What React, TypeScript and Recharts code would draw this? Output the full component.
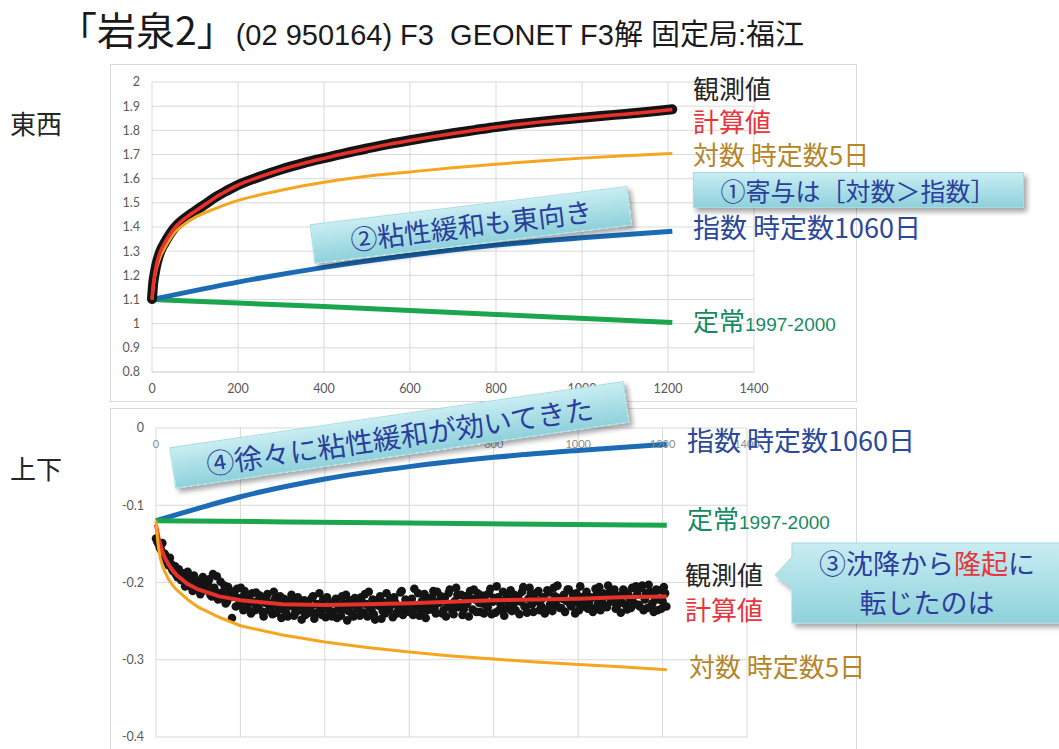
import React from "react";
import { ComposedChart, Line, Scatter, XAxis, YAxis, CartesianGrid } from "recharts";

// 東西 (east-west) panel
const ewDays = [0, 3, 6, 10, 15, 20, 30, 40, 50, 60, 80, 100, 125, 150, 175, 200, 250, 300, 350, 400, 450, 500, 550, 600, 650, 700, 750, 800, 850, 900, 950, 1000, 1050, 1100, 1150, 1200, 1210];
const ewObserved = [1.102, 1.17, 1.205, 1.243, 1.276, 1.302, 1.336, 1.366, 1.391, 1.411, 1.441, 1.466, 1.496, 1.526, 1.551, 1.574, 1.608, 1.638, 1.663, 1.685, 1.706, 1.725, 1.743, 1.759, 1.774, 1.788, 1.801, 1.814, 1.825, 1.835, 1.844, 1.852, 1.86, 1.868, 1.876, 1.885, 1.887];
const ewCalc = [1.1, 1.16, 1.2, 1.24, 1.275, 1.3, 1.335, 1.365, 1.39, 1.41, 1.44, 1.465, 1.495, 1.525, 1.55, 1.573, 1.607, 1.637, 1.662, 1.684, 1.705, 1.724, 1.742, 1.758, 1.773, 1.787, 1.8, 1.813, 1.824, 1.834, 1.843, 1.851, 1.859, 1.867, 1.875, 1.884, 1.886];
const ewLogDays = [0, 3, 6, 10, 15, 20, 30, 40, 50, 60, 80, 100, 150, 200, 250, 300, 400, 500, 600, 700, 800, 900, 1000, 1100, 1210];
const ewLog = [1.1, 1.15, 1.19, 1.225, 1.255, 1.28, 1.315, 1.345, 1.372, 1.39, 1.418, 1.44, 1.478, 1.51, 1.533, 1.552, 1.585, 1.61, 1.628, 1.645, 1.66, 1.673, 1.685, 1.695, 1.704];
const ewExpDays = [0, 200, 400, 600, 800, 1000, 1210];
const ewExp = [1.1, 1.172, 1.233, 1.283, 1.325, 1.356, 1.382];
const ewSteadyDays = [0, 400, 800, 1210];
const ewSteady = [1.1, 1.071, 1.038, 1.005];

// 上下 (up-down) panel
const udExpDays = [0, 100, 200, 400, 600, 800, 1000, 1210];
const udExp = [-0.12, -0.104, -0.089, -0.066, -0.05, -0.038, -0.029, -0.021];
const udSteadyDays = [0, 600, 1210];
const udSteady = [-0.12, -0.123, -0.126];
const udCalcDays = [0, 3, 6, 10, 15, 20, 30, 40, 50, 75, 100, 150, 200, 300, 400, 500, 600, 700, 800, 900, 1000, 1100, 1210];
const udCalc = [-0.125, -0.134, -0.142, -0.151, -0.16, -0.167, -0.177, -0.185, -0.191, -0.202, -0.209, -0.218, -0.223, -0.228, -0.229, -0.228, -0.227, -0.225, -0.223, -0.222, -0.221, -0.219, -0.218];
const udLogDays = [0, 2, 4, 6, 10, 15, 20, 30, 40, 50, 75, 100, 150, 200, 300, 400, 500, 600, 700, 800, 900, 1000, 1100, 1210];
const udLog = [-0.12, -0.133, -0.146, -0.155, -0.168, -0.178, -0.185, -0.196, -0.204, -0.21, -0.222, -0.232, -0.245, -0.256, -0.268, -0.277, -0.284, -0.29, -0.295, -0.299, -0.303, -0.306, -0.309, -0.313];

// observed readings, every 6 days from day 0 (A) and from day 3 (B)
const udObsStep = 6;
const udObservedA = [
  -0.143, -0.15, -0.158, -0.166, -0.171, -0.178, -0.176, -0.186, -0.19, -0.183,
  -0.197, -0.188, -0.201, -0.194, -0.206, -0.191, -0.208, -0.199, -0.212, -0.203,
  -0.21, -0.196, -0.218, -0.207, -0.192, -0.221, -0.213, -0.204, -0.225, -0.211,
  -0.246, -0.216, -0.208, -0.229, -0.219, -0.211, -0.232, -0.222, -0.214, -0.236,
  -0.224, -0.217, -0.238, -0.226, -0.215, -0.233, -0.241, -0.221, -0.23, -0.218,
  -0.235, -0.227, -0.244, -0.222, -0.231, -0.239, -0.219, -0.236, -0.228, -0.242,
  -0.225, -0.233, -0.218, -0.24, -0.229, -0.236, -0.222, -0.245, -0.231, -0.226,
  -0.238, -0.221, -0.234, -0.243, -0.227, -0.216, -0.237, -0.23, -0.244, -0.224,
  -0.232, -0.219, -0.239, -0.228, -0.212, -0.235, -0.241, -0.223, -0.23, -0.247,
  -0.226, -0.214, -0.236, -0.229, -0.219, -0.24, -0.231, -0.211, -0.233, -0.225,
  -0.238, -0.221, -0.208, -0.23, -0.243, -0.224, -0.215, -0.236, -0.227, -0.219,
  -0.233, -0.212, -0.226, -0.24, -0.22, -0.231, -0.209, -0.237, -0.224, -0.216,
  -0.229, -0.242, -0.218, -0.226, -0.211, -0.235, -0.222, -0.214, -0.238, -0.227,
  -0.217, -0.232, -0.208, -0.225, -0.239, -0.219, -0.228, -0.212, -0.234, -0.223,
  -0.21, -0.229, -0.236, -0.218, -0.225, -0.206, -0.232, -0.221, -0.214, -0.238,
  -0.224, -0.211, -0.23, -0.219, -0.235, -0.213, -0.226, -0.207, -0.229, -0.22,
  -0.233, -0.216, -0.224, -0.209, -0.231, -0.222, -0.214, -0.236, -0.219, -0.227,
  -0.212, -0.228, -0.22, -0.234, -0.215, -0.206, -0.225, -0.218, -0.232, -0.213,
  -0.223, -0.209, -0.23, -0.217, -0.226, -0.211, -0.235, -0.22, -0.207, -0.228,
  -0.215, -0.231, -0.204, -0.222, -0.233, -0.212, -0.227, -0.218, -0.236, -0.21,
  -0.224, -0.214,
];
const udObservedB = [
  -0.147, -0.155, -0.149, -0.163, -0.174, -0.168, -0.184, -0.179, -0.193, -0.187,
  -0.191, -0.205, -0.186, -0.199, -0.211, -0.196, -0.203, -0.215, -0.193, -0.208,
  -0.201, -0.216, -0.189, -0.212, -0.222, -0.199, -0.218, -0.227, -0.206, -0.219,
  -0.212, -0.231, -0.221, -0.207, -0.236, -0.224, -0.217, -0.24, -0.226, -0.213,
  -0.233, -0.222, -0.244, -0.219, -0.236, -0.227, -0.212, -0.239, -0.225, -0.246,
  -0.221, -0.24, -0.23, -0.216, -0.243, -0.226, -0.234, -0.248, -0.223, -0.232,
  -0.239, -0.22, -0.247, -0.228, -0.214, -0.242, -0.233, -0.219, -0.238, -0.244,
  -0.226, -0.246, -0.229, -0.218, -0.235, -0.249, -0.223, -0.241, -0.22, -0.234,
  -0.243, -0.226, -0.215, -0.244, -0.233, -0.222, -0.248, -0.229, -0.218, -0.237,
  -0.24, -0.231, -0.22, -0.245, -0.226, -0.237, -0.213, -0.242, -0.222, -0.234,
  -0.226, -0.242, -0.233, -0.214, -0.238, -0.229, -0.246, -0.22, -0.235, -0.211,
  -0.24, -0.225, -0.218, -0.236, -0.244, -0.214, -0.229, -0.241, -0.207, -0.232,
  -0.216, -0.235, -0.228, -0.244, -0.221, -0.209, -0.238, -0.226, -0.217, -0.24,
  -0.23, -0.214, -0.241, -0.22, -0.205, -0.236, -0.224, -0.243, -0.218, -0.229,
  -0.237, -0.216, -0.224, -0.241, -0.212, -0.231, -0.239, -0.207, -0.228, -0.222,
  -0.213, -0.236, -0.221, -0.24, -0.21, -0.229, -0.237, -0.218, -0.204, -0.233,
  -0.221, -0.238, -0.209, -0.228, -0.215, -0.24, -0.226, -0.205, -0.231, -0.217,
  -0.234, -0.219, -0.238, -0.208, -0.227, -0.236, -0.214, -0.23, -0.204, -0.225,
  -0.213, -0.234, -0.22, -0.239, -0.209, -0.229, -0.216, -0.233, -0.226, -0.205,
  -0.229, -0.207, -0.236, -0.214, -0.203, -0.23, -0.238, -0.209, -0.222, -0.234,
  -0.206, -0.231,
];

const xTicks = [0, 200, 400, 600, 800, 1000, 1200, 1400];
const ewTicks = [0.8, 0.9, 1, 1.1, 1.2, 1.3, 1.4, 1.5, 1.6, 1.7, 1.8, 1.9, 2];
const udTicks = [-0.4, -0.3, -0.2, -0.1, 0];

const pts = (xs: number[], ys: number[]) => xs.map((x, i) => ({ x, y: ys[i] }));
const obsPts = (ys: number[], start: number) => ys.map((y, i) => ({ x: start + i * udObsStep, y }));

const C = {
  obs: "#141414",
  calc: "#e8312a",
  log: "#f5a51f",
  exp: "#1b6bb5",
  steady: "#1ba64e",
  grid: "#d9d9d9",
  tick: "#595959",
  boxText: "#2b3e9b",
};

const tickStyle = { fill: C.tick, fontSize: 12.5, fontFamily: "Lato, sans-serif" };
const fmt = (v: number) => String(Number(v.toFixed(1)));

const Dot = (p: any) => <circle cx={p.cx} cy={p.cy} r={4.3} fill={C.obs} />;
const NoDot = () => <g />;

const Label = ({ x, y, color, children, size = 26 }: any) => (
  <div
    style={{
      position: "absolute",
      left: x,
      top: y,
      transform: "translateY(-50%)",
      color,
      fontSize: size,
      lineHeight: 1,
      whiteSpace: "nowrap",
    }}
  >
    {children}
  </div>
);

const Years = () => (
  <span style={{ fontSize: 19, fontFamily: '"Liberation Sans", sans-serif' }}>1997-2000</span>
);

const boxBg = "linear-gradient(#c8edf2, #8fd1db)";

const Box = ({ cx, cy, w, h, angle, size, children }: any) => (
  <div
    style={{
      position: "absolute",
      left: cx - w / 2,
      top: cy - h / 2,
      width: w,
      height: h,
      transform: `rotate(${angle}deg)`,
      background: boxBg,
      border: "1px solid #a6dbe2",
      boxShadow: "3px 4px 5px rgba(0,0,0,0.35)",
      color: C.boxText,
      fontSize: size,
      lineHeight: `${h}px`,
      textAlign: "center",
      whiteSpace: "nowrap",
    }}
  >
    {children}
  </div>
);

export default function App() {
  return (
    <div
      style={{
        position: "absolute",
        left: 0,
        top: 0,
        width: 1059,
        height: 749,
        overflow: "hidden",
        background: "#fff",
        fontFamily: '"Noto Sans CJK JP", sans-serif',
      }}
    >
      {/* title */}
      <div style={{ position: "absolute", left: 58, top: 6, whiteSpace: "nowrap", color: "#1a1a1a", lineHeight: "44px", height: 46 }}>
        <span style={{ fontSize: 39 }}>「岩泉2」</span>
        <span style={{ fontSize: 29, fontFamily: '"Liberation Sans", "Noto Sans CJK JP", sans-serif' }}>
          (02 950164) F3&nbsp; GEONET F3解 固定局:福江
        </span>
      </div>

      <Label x={10} y={123} color="#262626">東西</Label>
      <Label x={10} y={468} color="#262626">上下</Label>

      {/* top chart */}
      <div style={{ position: "absolute", left: 110, top: 64, width: 747, height: 338, border: `1px solid ${C.grid}`, boxSizing: "border-box" }} />
      <div style={{ position: "absolute", left: 110, top: 64 }}>
        <ComposedChart width={747} height={338} margin={{ top: 18, right: 103, left: 0, bottom: 0 }}>
          <CartesianGrid stroke={C.grid} />
          <XAxis dataKey="x" type="number" domain={[0, 1400]} ticks={xTicks} height={30} axisLine={{ stroke: C.grid }} tickLine={false} tick={tickStyle} tickMargin={6} />
          <YAxis type="number" domain={[0.8, 2]} ticks={ewTicks} width={42} axisLine={false} tickLine={false} tick={tickStyle} tickFormatter={fmt} tickMargin={6} />
          <Line data={pts(ewSteadyDays, ewSteady)} dataKey="y" stroke={C.steady} strokeWidth={5} dot={false} isAnimationActive={false} />
          <Line data={pts(ewExpDays, ewExp)} dataKey="y" type="monotone" stroke={C.exp} strokeWidth={5} dot={false} isAnimationActive={false} />
          <Line data={pts(ewDays, ewObserved)} dataKey="y" type="monotone" stroke={C.obs} strokeWidth={10} strokeLinecap="round" dot={false} isAnimationActive={false} />
          <Line data={pts(ewLogDays, ewLog)} dataKey="y" type="monotone" stroke={C.log} strokeWidth={3} dot={false} isAnimationActive={false} />
          <Line data={pts(ewDays, ewCalc)} dataKey="y" type="monotone" stroke={C.calc} strokeWidth={3.5} dot={false} isAnimationActive={false} />
        </ComposedChart>
      </div>

      {/* bottom chart */}
      <div style={{ position: "absolute", left: 110, top: 408, width: 747, height: 400, border: `1px solid ${C.grid}`, boxSizing: "border-box" }} />
      <div style={{ position: "absolute", left: 110, top: 408 }}>
        <ComposedChart width={747} height={345} margin={{ top: 0, right: 110, left: 0, bottom: 16 }}>
          <CartesianGrid stroke={C.grid} />
          <XAxis dataKey="x" type="number" orientation="top" domain={[0, 1400]} ticks={xTicks} height={20} axisLine={false} tickLine={false} tick={{ ...tickStyle, fill: "#8c8c8c", fontSize: 11, dy: 28 }} />
          <YAxis type="number" domain={[-0.4, 0]} ticks={udTicks} width={46} axisLine={false} tickLine={false} tick={tickStyle} tickFormatter={fmt} tickMargin={6} />
          <Line data={pts(udExpDays, udExp)} dataKey="y" type="monotone" stroke={C.exp} strokeWidth={5} dot={false} isAnimationActive={false} />
          <Line data={pts(udSteadyDays, udSteady)} dataKey="y" type="monotone" stroke={C.steady} strokeWidth={5} dot={false} isAnimationActive={false} />
          <Scatter data={obsPts(udObservedA, 0)} dataKey="y" shape={Dot} isAnimationActive={false} />
          <Scatter data={obsPts(udObservedB, 3)} dataKey="y" shape={Dot} isAnimationActive={false} />
          {/* drawn as scatter lines so they sit above the observed dots */}
          <Scatter data={pts(udCalcDays, udCalc)} dataKey="y" shape={NoDot} line={{ stroke: C.calc, strokeWidth: 4 }} isAnimationActive={false} />
          <Scatter data={pts(udLogDays, udLog)} dataKey="y" shape={NoDot} line={{ stroke: C.log, strokeWidth: 3 }} isAnimationActive={false} />
        </ComposedChart>
      </div>

      {/* series labels, top */}
      <Label x={693} y={88} color="#262626">観測値</Label>
      <Label x={693} y={121} color="#e8353b">計算値</Label>
      <Label x={693} y={154} color="#b5852a">対数 時定数5日</Label>
      <Label x={693} y={226} color="#2c4899" size={27}>指数 時定数1060日</Label>
      <Label x={693} y={320} color="#178a63">
        定常<Years />
      </Label>

      {/* series labels, bottom */}
      <Label x={687} y={439} color="#2c4899" size={27}>指数 時定数1060日</Label>
      <Label x={687} y={518} color="#178a63">
        定常<Years />
      </Label>
      <Label x={685} y={574} color="#262626">観測値</Label>
      <Label x={685} y={609} color="#e8353b">計算値</Label>
      <Label x={689} y={666} color="#b5852a">対数 時定数5日</Label>

      {/* annotations */}
      <Box cx={470} cy={224} w={318} h={38} angle={-6.9} size={27}>②粘性緩和も東向き</Box>
      <Box cx={857} cy={189} w={329} h={34} angle={0} size={25}>①寄与は［対数＞指数］</Box>
      <Box cx={398} cy={434} w={457} h={40} angle={-8.3} size={28}>④徐々に粘性緩和が効いてきた</Box>

      <svg style={{ position: "absolute", left: 770, top: 536 }} width={289} height={100}>
        <defs>
          <linearGradient id="cg" x1="0" y1="0" x2="0" y2="1">
            <stop offset="0" stopColor="#c8edf2" />
            <stop offset="1" stopColor="#8fd1db" />
          </linearGradient>
          <filter id="sh" x="-10%" y="-10%" width="130%" height="140%">
            <feDropShadow dx="3" dy="4" stdDeviation="2.5" floodColor="#000" floodOpacity="0.35" />
          </filter>
        </defs>
        <path d="M22 7 H300 V87 H22 V52 L5 39 L22 21 Z" fill="url(#cg)" stroke="#a6dbe2" filter="url(#sh)" />
      </svg>
      <div
        style={{
          position: "absolute",
          left: 792,
          top: 543,
          width: 270,
          textAlign: "center",
          color: C.boxText,
          fontSize: 27,
          lineHeight: "39px",
          whiteSpace: "nowrap",
        }}
      >
        ③沈降から<span style={{ color: "#e8353b" }}>隆起</span>に
        <br />
        転じたのは
      </div>
    </div>
  );
}
